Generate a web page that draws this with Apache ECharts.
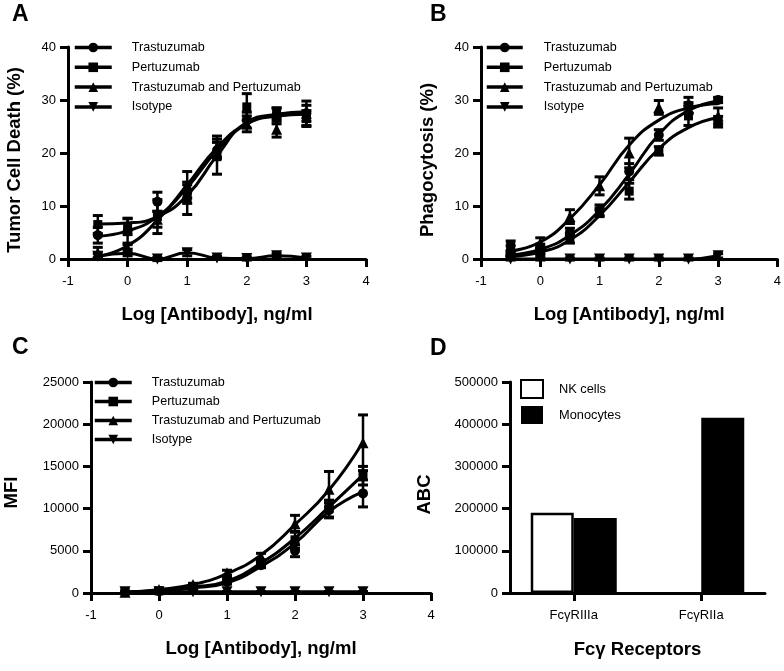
<!DOCTYPE html>
<html>
<head>
<meta charset="utf-8">
<script src="https://cdn.jsdelivr.net/npm/echarts@6/dist/echarts.min.js"></script>
<style>
html,body{margin:0;padding:0;background:#fff;}
#chart{width:784px;height:671px;}
</style>
</head>
<body>
<div id="chart"></div>
<script>
// ---------- data ----------
const xVals = [-0.5, 0, 0.5, 1, 1.5, 2, 2.5, 3];
const xTicks = [-1, 0, 1, 2, 3, 4];
const seriesNames = ['Trastuzumab', 'Pertuzumab', 'Trastuzumab and Pertuzumab', 'Isotype'];

// Panel A: Tumor Cell Death (%)
const aTras = [4.5, 5.2, 10.8, 12.5, 20.5, 26.2, 27.0, 27.5];
const aPert = [6.5, 6.1, 8.0, 11.2, 19.3, 28.7, 27.5, 26.5];
const aCombo = [1.2, 2.0, 7.5, 14.0, 21.2, 25.5, 24.5, 27.5];
const aIso = [0.5, 1.1, 0.0, 1.2, 0.2, 0.1, 0.6, 0.2];
const aTrasErr = [1.5, 2.5, 1.8, 2.0, 1.5, 1.5, 1.5, 1.5];
const aPertErr = [1.7, 1.5, 3.2, 2.8, 3.3, 2.5, 1.0, 1.5];
const aComboErr = [1.0, 1.0, 1.5, 2.5, 2.0, 1.5, 1.5, 2.3];
const aIsoErr = [0.5, 0.5, 0.3, 0.6, 0.3, 0.3, 0.4, 0.3];
const aTrasFit = [4.3, 5.3, 8.0, 13.5, 20.5, 25.5, 27.0, 27.3];
const aPertFit = [6.6, 6.8, 8.0, 12.0, 19.5, 25.8, 27.3, 27.8];
const aComboFit = [0.5, 2.5, 7.3, 14.0, 21.0, 25.5, 27.0, 27.5];

// Panel B: Phagocytosis (%)
const bTras = [1.1, 2.0, 5.0, 9.2, 16.5, 23.4, 29.0, 30.0];
const bPert = [2.4, 1.5, 3.8, 8.8, 12.8, 20.4, 27.0, 25.9];
const bCombo = [1.5, 3.0, 8.0, 13.8, 20.0, 28.6, 28.5, 27.0];
const bIso = [0.0, 0.0, 0.0, 0.0, 0.0, 0.0, 0.0, 0.6];
const bTrasErr = [0.5, 0.8, 0.8, 1.0, 1.5, 1.0, 1.5, 0.5];
const bPertErr = [1.0, 0.8, 0.8, 0.8, 1.5, 0.8, 1.8, 1.0];
const bComboErr = [1.0, 1.0, 1.3, 1.7, 2.8, 1.3, 1.0, 1.5];
const bIsoErr = [0.2, 0.2, 0.2, 0.2, 0.2, 0.2, 0.2, 0.4];
const bTrasFit = [0.8, 1.8, 4.5, 9.2, 16.0, 23.5, 28.0, 29.8];
const bPertFit = [0.5, 1.3, 3.6, 8.2, 14.5, 20.8, 24.8, 26.7];
const bComboFit = [1.5, 3.2, 7.6, 14.0, 21.5, 26.2, 28.5, 29.3];

// Panel C: MFI
const cTras = [100, 200, 500, 1300, 3300, 5000, 9800, 11800];
const cPert = [150, 250, 700, 1700, 3500, 6300, 10000, 13900];
const cCombo = [100, 400, 1000, 2400, 4300, 8200, 12300, 17800];
const cIso = [150, 150, 150, 150, 150, 150, 150, 150];
const cTrasErr = [50, 80, 100, 250, 300, 700, 900, 1600];
const cPertErr = [50, 80, 100, 300, 400, 1000, 1000, 1100];
const cComboErr = [50, 80, 150, 300, 400, 1000, 2100, 3300];
const cIsoErr = [30, 30, 30, 30, 30, 30, 30, 30];
const cTrasFit = [50, 250, 600, 1200, 3150, 5900, 9650, 12000];
const cPertFit = [80, 300, 700, 1400, 3540, 6500, 10200, 14000];
const cComboFit = [100, 400, 1000, 2300, 4500, 8100, 12200, 17900];
const cIsoFit = [150, 150, 150, 150, 150, 150, 150, 150];

// Panel D: ABC
const dCategories = ['FcγRIIIa', 'FcγRIIa'];
const dNK = [190000, null];
const dMono = [178000, 415000];

// ---------- helpers ----------
const FONT = '"Liberation Sans", Arial, sans-serif';
const BLACK = '#000';
const symbols = [
  {symbol: 'circle', size: 10, rotate: 0},
  {symbol: 'rect', size: 9, rotate: 0},
  {symbol: 'triangle', size: 11, rotate: 0},
  {symbol: 'triangle', size: 11, rotate: 180}
];

function pairs(ys) { return xVals.map((x, i) => [x, ys[i]]); }

function errRender(params, api) {
  const x = api.value(0), lo = api.value(1), hi = api.value(2);
  const p1 = api.coord([x, hi]);
  const p2 = api.coord([x, lo]);
  const w = 5;
  return {
    type: 'group',
    children: [
      {type: 'line', shape: {x1: p1[0], y1: p1[1], x2: p2[0], y2: p2[1]}, style: {stroke: BLACK, lineWidth: 2.5}},
      {type: 'line', shape: {x1: p1[0] - w, y1: p1[1], x2: p1[0] + w, y2: p1[1]}, style: {stroke: BLACK, lineWidth: 3}},
      {type: 'line', shape: {x1: p2[0] - w, y1: p2[1], x2: p2[0] + w, y2: p2[1]}, style: {stroke: BLACK, lineWidth: 3}}
    ]
  };
}

function panelSeries(gi, vals, errs, fits) {
  const out = [];
  const errData = [];
  vals.forEach((v, s) => {
    v.forEach((y, i) => errData.push([xVals[i], y - errs[s][i], y + errs[s][i]]));
  });
  out.push({
    type: 'custom', name: 'err' + gi, xAxisIndex: gi, yAxisIndex: gi,
    renderItem: errRender, data: errData, encode: {x: 0, y: [1, 2]}, clip: false, z: 2, silent: true
  });
  fits.forEach((f, s) => {
    out.push({
      type: 'line', name: seriesNames[s], xAxisIndex: gi, yAxisIndex: gi,
      data: pairs(f), smooth: 0.5, showSymbol: false,
      symbol: symbols[s].symbol, symbolRotate: symbols[s].rotate, symbolSize: symbols[s].size,
      lineStyle: {color: BLACK, width: 3}, itemStyle: {color: BLACK},
      clip: false, z: 3, silent: true
    });
  });
  vals.forEach((v, s) => {
    out.push({
      type: 'scatter', name: 'pts' + gi + '_' + s, xAxisIndex: gi, yAxisIndex: gi,
      data: pairs(v), symbol: symbols[s].symbol, symbolRotate: symbols[s].rotate,
      symbolSize: symbols[s].size, itemStyle: {color: BLACK, opacity: 1}, clip: false, z: 4, silent: true
    });
  });
  return out;
}

const axisLine = {show: true, onZero: false, lineStyle: {color: BLACK, width: 3}};
const axisTick = {show: true, length: 8, lineStyle: {color: BLACK, width: 3}};
const labelStyle = {color: BLACK, fontFamily: FONT, fontSize: 13};
const nameStyle = {color: BLACK, fontFamily: FONT, fontSize: 18.5, fontWeight: 'bold'};

function xValueAxis(gi) {
  return {
    type: 'value', gridIndex: gi, min: xTicks[0], max: xTicks[xTicks.length - 1], interval: 1,
    name: 'Log [Antibody], ng/ml', nameLocation: 'middle', nameGap: 46, nameTextStyle: nameStyle,
    axisLine: axisLine, axisTick: axisTick, splitLine: {show: false},
    axisLabel: Object.assign({margin: 16, formatter: v => String(v)}, labelStyle)
  };
}
function yValueAxis(gi, name, max, interval, gap, shift) {
  return {
    type: 'value', gridIndex: gi, min: 0, max: max, interval: interval,
    name: name, nameLocation: 'middle', nameGap: gap,
    nameTextStyle: Object.assign({padding: [0, shift, 0, 0]}, nameStyle),
    axisLine: axisLine, axisTick: axisTick, splitLine: {show: false},
    axisLabel: Object.assign({margin: 12, formatter: v => String(v)}, labelStyle)
  };
}
function lineLegend(left, top, gap, itemGap, width) {
  return {
    data: seriesNames, orient: 'vertical', left: left, top: top, itemWidth: width, itemHeight: 12,
    itemGap: itemGap, selectedMode: false, padding: 0,
    lineStyle: {color: BLACK, width: 3.5},
    textStyle: {color: BLACK, fontFamily: FONT, fontSize: 12.6, padding: [0, 0, 0, gap]}
  };
}

const series = []
  .concat(panelSeries(0, [aTras, aPert, aCombo, aIso], [aTrasErr, aPertErr, aComboErr, aIsoErr],
    [aTrasFit, aPertFit, aComboFit, aIso]))
  .concat(panelSeries(1, [bTras, bPert, bCombo, bIso], [bTrasErr, bPertErr, bComboErr, bIsoErr],
    [bTrasFit, bPertFit, bComboFit, bIso]))
  .concat(panelSeries(2, [cTras, cPert, cCombo, cIso], [cTrasErr, cPertErr, cComboErr, cIsoErr],
    [cTrasFit, cPertFit, cComboFit, cIsoFit]));

series.push({
  type: 'bar', name: 'NK cells', xAxisIndex: 3, yAxisIndex: 3, data: dNK,
  barWidth: 43, barGap: '0%',
  itemStyle: {color: '#fff', borderColor: BLACK, borderWidth: 2.5}
});
series.push({
  type: 'bar', name: 'Monocytes', xAxisIndex: 3, yAxisIndex: 3, data: dMono,
  barWidth: 43, barGap: '0%',
  itemStyle: {color: BLACK, borderColor: BLACK, borderWidth: 0}
});

const letterStyle = {color: BLACK, fontFamily: FONT, fontSize: 23, fontWeight: 'bold'};

const option = {
  animation: false,
  backgroundColor: '#fff',
  title: [
    {text: 'A', left: 12, top: 3, padding: 0, textStyle: letterStyle},
    {text: 'B', left: 430, top: 3, padding: 0, textStyle: letterStyle},
    {text: 'C', left: 12, top: 336, padding: 0, textStyle: letterStyle},
    {text: 'D', left: 430, top: 337, padding: 0, textStyle: letterStyle}
  ],
  grid: [
    {left: 68, top: 47, width: 298, height: 212},
    {left: 481, top: 47, width: 299, height: 212},
    {left: 91, top: 382, width: 340, height: 211},
    {left: 510, top: 382, width: 255, height: 211}
  ],
  legend: [
    lineLegend(73, 41, 15, 6.8, 37),
    lineLegend(485, 41, 16, 6.8, 36),
    lineLegend(93, 376, 15, 6, 37),
    {
      data: ['NK cells', 'Monocytes'], orient: 'vertical', left: 520, top: 379, itemWidth: 22, itemHeight: 18,
      itemGap: 7, icon: 'rect', selectedMode: false, padding: 0,
      textStyle: {color: BLACK, fontFamily: FONT, fontSize: 12.8, padding: [0, 0, 0, 11]}
    }
  ],
  xAxis: [
    xValueAxis(0), xValueAxis(1), xValueAxis(2),
    {
      type: 'category', gridIndex: 3, data: dCategories,
      name: 'Fcγ Receptors', nameLocation: 'middle', nameGap: 47, nameTextStyle: nameStyle,
      axisLine: axisLine, axisTick: Object.assign({alignWithLabel: true}, axisTick),
      axisLabel: Object.assign({margin: 16}, labelStyle)
    }
  ],
  yAxis: [
    yValueAxis(0, 'Tumor Cell Death (%)', 40, 10, 44, 14),
    yValueAxis(1, 'Phagocytosis (%)', 40, 10, 44, 14),
    yValueAxis(2, 'MFI', 25000, 5000, 70, 10),
    yValueAxis(3, 'ABC', 500000, 100000, 76, 14)
  ],
  series: series
};

const chart = echarts.init(document.getElementById('chart'), null, {renderer: 'canvas'});
chart.setOption(option);
</script>
</body>
</html>
